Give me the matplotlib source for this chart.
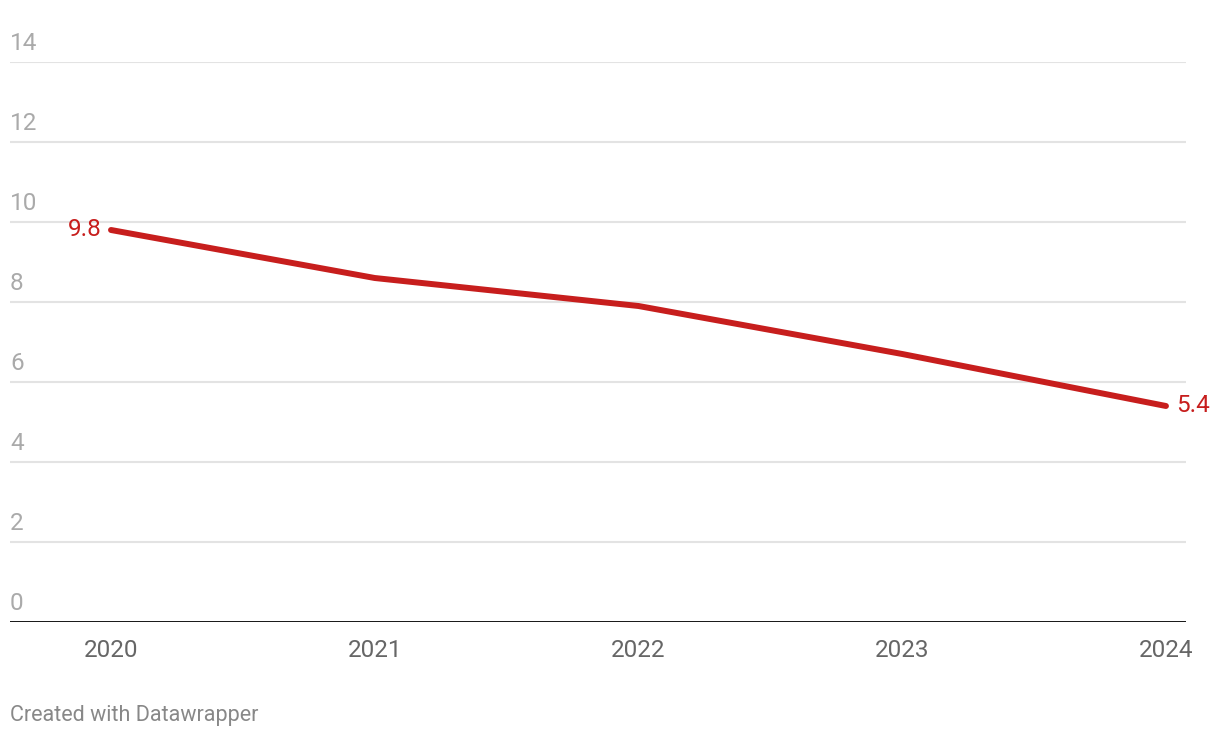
import matplotlib.pyplot as plt

# Data
years = [2020, 2021, 2022, 2023, 2024]
values = [9.8, 8.6, 7.9, 6.7, 5.4]
y_ticks = [0, 2, 4, 6, 8, 10, 12, 14]

red = '#c71e1d'
plt.rcParams['font.family'] = ['Roboto', 'DejaVu Sans']

fig = plt.figure(figsize=(12.2, 7.38), dpi=100)
ax = fig.add_axes([10 / 1220, 1 - 622 / 738, 1176 / 1220, 560 / 738])
ax.set_xlim(2019.617, 2024.076)
ax.set_ylim(0, 14)

# gridlines and labels sitting above them
for t in y_ticks:
	if t > 0:
		ax.axhline(t, color='#e3e3e3', linewidth=1.5, zorder=1)
	ax.annotate(str(t), xy=(0, t), xycoords=('axes fraction', 'data'),
		xytext=(0, 5), textcoords='offset points', ha='left', va='bottom',
		fontsize=17.5, color='#aaaaaa')
ax.axhline(0, color='#000000', linewidth=2, zorder=2)

ax.plot(years, values, color=red, linewidth=4.3, solid_capstyle='round', zorder=3)
ax.annotate('%.1f' % values[0], xy=(years[0], values[0]), xytext=(-7, 0),
	textcoords='offset points', ha='right', va='center', fontsize=17.5, color=red)
ax.annotate('%.1f' % values[-1], xy=(years[-1], values[-1]), xytext=(7, 0),
	textcoords='offset points', ha='left', va='center', fontsize=17.5, color=red)

ax.set_xticks(years)
ax.set_xticklabels([str(y) for y in years], fontsize=17.5, color='#666666')
ax.tick_params(axis='x', length=0, pad=12)
ax.set_yticks([])
for s in ax.spines.values():
	s.set_visible(False)

fig.text(10 / 1220, 1 - 715 / 738, 'Created with Datawrapper', fontsize=15.5,
	color='#888888', ha='left', va='center')

fig.savefig('out.png', dpi=100)
